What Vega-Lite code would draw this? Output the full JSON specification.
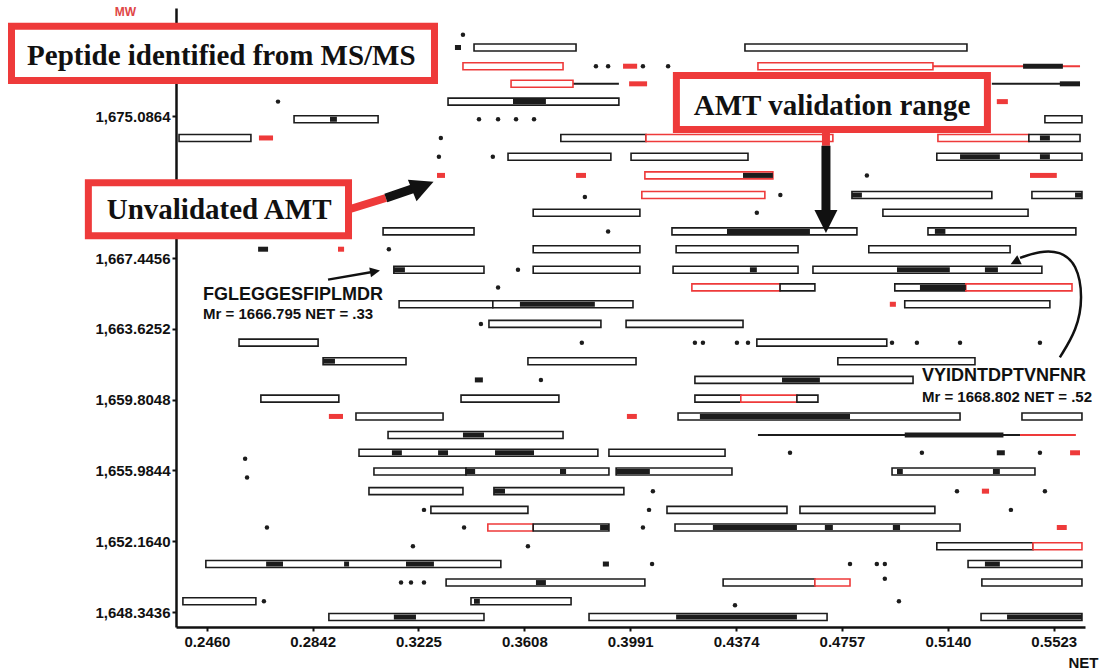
{
  "$schema": "https://vega.github.io/schema/vega-lite/v6.json",
  "width": 909,
  "height": 619,
  "autosize": {"type": "none"},
  "padding": {"left": 176, "top": 8, "right": 17, "bottom": 43},
  "background": "white",
  "config": {
    "view": {"stroke": null},
    "axis": {
      "domainColor": "#111111",
      "domainWidth": 2.5,
      "tickColor": "#111111",
      "tickWidth": 2,
      "tickSize": 4,
      "grid": false,
      "labelFont": "Liberation Sans",
      "labelFontSize": 15,
      "labelFontWeight": "bold",
      "labelColor": "#111111",
      "labelFlush": false,
      "labelOverlap": false,
      "titleFont": "Liberation Sans",
      "titleColor": "#111111"
    }
  },
  "datasets": {
    "ranges": [
      {"lo": 0.3426, "hi": 0.3795, "mw": 1678.80, "status": "validated"},
      {"lo": 0.4406, "hi": 0.5209, "mw": 1678.80, "status": "validated"},
      {"lo": 0.3386, "hi": 0.3748, "mw": 1677.79, "status": "unvalidated"},
      {"lo": 0.4453, "hi": 0.5086, "mw": 1677.79, "status": "unvalidated"},
      {"lo": 0.3560, "hi": 0.3784, "mw": 1676.84, "status": "unvalidated"},
      {"lo": 0.3332, "hi": 0.3950, "mw": 1675.88, "status": "validated"},
      {"lo": 0.2775, "hi": 0.3079, "mw": 1674.93, "status": "validated"},
      {"lo": 0.5491, "hi": 0.5625, "mw": 1674.93, "status": "validated"},
      {"lo": 0.2359, "hi": 0.2619, "mw": 1673.92, "status": "validated"},
      {"lo": 0.3740, "hi": 0.4048, "mw": 1673.92, "status": "validated"},
      {"lo": 0.4048, "hi": 0.4724, "mw": 1673.92, "status": "unvalidated"},
      {"lo": 0.5104, "hi": 0.5433, "mw": 1673.92, "status": "unvalidated"},
      {"lo": 0.5433, "hi": 0.5618, "mw": 1673.92, "status": "validated"},
      {"lo": 0.3549, "hi": 0.3921, "mw": 1672.91, "status": "validated"},
      {"lo": 0.3994, "hi": 0.4417, "mw": 1672.91, "status": "validated"},
      {"lo": 0.5100, "hi": 0.5625, "mw": 1672.91, "status": "validated"},
      {"lo": 0.4044, "hi": 0.4507, "mw": 1671.90, "status": "unvalidated"},
      {"lo": 0.4033, "hi": 0.4478, "mw": 1670.84, "status": "unvalidated"},
      {"lo": 0.4793, "hi": 0.5299, "mw": 1670.84, "status": "validated"},
      {"lo": 0.5444, "hi": 0.5625, "mw": 1670.84, "status": "validated"},
      {"lo": 0.3640, "hi": 0.4026, "mw": 1669.89, "status": "validated"},
      {"lo": 0.4905, "hi": 0.5430, "mw": 1669.89, "status": "validated"},
      {"lo": 0.3097, "hi": 0.3426, "mw": 1668.88, "status": "validated"},
      {"lo": 0.4142, "hi": 0.4811, "mw": 1668.88, "status": "validated"},
      {"lo": 0.5068, "hi": 0.5603, "mw": 1668.88, "status": "validated"},
      {"lo": 0.3640, "hi": 0.4026, "mw": 1667.92, "status": "validated"},
      {"lo": 0.4157, "hi": 0.4598, "mw": 1667.92, "status": "validated"},
      {"lo": 0.4854, "hi": 0.5365, "mw": 1667.92, "status": "validated"},
      {"lo": 0.3136, "hi": 0.3462, "mw": 1666.81, "status": "validated"},
      {"lo": 0.3640, "hi": 0.4026, "mw": 1666.81, "status": "validated"},
      {"lo": 0.4146, "hi": 0.4598, "mw": 1666.81, "status": "validated"},
      {"lo": 0.4652, "hi": 0.5480, "mw": 1666.81, "status": "validated"},
      {"lo": 0.4214, "hi": 0.4533, "mw": 1665.86, "status": "unvalidated"},
      {"lo": 0.4533, "hi": 0.4659, "mw": 1665.86, "status": "validated"},
      {"lo": 0.4948, "hi": 0.5205, "mw": 1665.86, "status": "validated"},
      {"lo": 0.5205, "hi": 0.5589, "mw": 1665.86, "status": "unvalidated"},
      {"lo": 0.3155, "hi": 0.3494, "mw": 1664.95, "status": "validated"},
      {"lo": 0.3494, "hi": 0.4001, "mw": 1664.95, "status": "validated"},
      {"lo": 0.4984, "hi": 0.5509, "mw": 1664.95, "status": "validated"},
      {"lo": 0.3480, "hi": 0.3885, "mw": 1663.89, "status": "validated"},
      {"lo": 0.3976, "hi": 0.4399, "mw": 1663.89, "status": "validated"},
      {"lo": 0.2576, "hi": 0.2862, "mw": 1662.88, "status": "validated"},
      {"lo": 0.4449, "hi": 0.4919, "mw": 1662.88, "status": "validated"},
      {"lo": 0.2880, "hi": 0.3180, "mw": 1661.88, "status": "validated"},
      {"lo": 0.3621, "hi": 0.4012, "mw": 1661.88, "status": "validated"},
      {"lo": 0.4742, "hi": 0.5238, "mw": 1661.88, "status": "validated"},
      {"lo": 0.4225, "hi": 0.5014, "mw": 1660.87, "status": "validated"},
      {"lo": 0.2655, "hi": 0.2937, "mw": 1659.86, "status": "validated"},
      {"lo": 0.3379, "hi": 0.3733, "mw": 1659.86, "status": "validated"},
      {"lo": 0.4225, "hi": 0.4391, "mw": 1659.86, "status": "validated"},
      {"lo": 0.4391, "hi": 0.4594, "mw": 1659.86, "status": "unvalidated"},
      {"lo": 0.4594, "hi": 0.4670, "mw": 1659.86, "status": "validated"},
      {"lo": 0.2999, "hi": 0.3314, "mw": 1658.90, "status": "validated"},
      {"lo": 0.4164, "hi": 0.5184, "mw": 1658.90, "status": "validated"},
      {"lo": 0.5408, "hi": 0.5625, "mw": 1658.90, "status": "validated"},
      {"lo": 0.3115, "hi": 0.3748, "mw": 1657.90, "status": "validated"},
      {"lo": 0.3010, "hi": 0.3874, "mw": 1656.94, "status": "validated"},
      {"lo": 0.3914, "hi": 0.4334, "mw": 1656.94, "status": "validated"},
      {"lo": 0.3064, "hi": 0.3397, "mw": 1655.93, "status": "validated"},
      {"lo": 0.3397, "hi": 0.3914, "mw": 1655.93, "status": "validated"},
      {"lo": 0.3940, "hi": 0.4359, "mw": 1655.93, "status": "validated"},
      {"lo": 0.4938, "hi": 0.5455, "mw": 1655.93, "status": "validated"},
      {"lo": 0.3046, "hi": 0.3386, "mw": 1654.87, "status": "validated"},
      {"lo": 0.3498, "hi": 0.3968, "mw": 1654.87, "status": "validated"},
      {"lo": 0.3270, "hi": 0.3621, "mw": 1653.86, "status": "validated"},
      {"lo": 0.4124, "hi": 0.4558, "mw": 1653.86, "status": "validated"},
      {"lo": 0.4605, "hi": 0.5093, "mw": 1653.86, "status": "validated"},
      {"lo": 0.3476, "hi": 0.3640, "mw": 1652.91, "status": "unvalidated"},
      {"lo": 0.3640, "hi": 0.3914, "mw": 1652.91, "status": "validated"},
      {"lo": 0.4153, "hi": 0.5184, "mw": 1652.91, "status": "validated"},
      {"lo": 0.5100, "hi": 0.5448, "mw": 1651.90, "status": "validated"},
      {"lo": 0.5448, "hi": 0.5625, "mw": 1651.90, "status": "unvalidated"},
      {"lo": 0.2456, "hi": 0.3523, "mw": 1650.94, "status": "validated"},
      {"lo": 0.5213, "hi": 0.5625, "mw": 1650.94, "status": "validated"},
      {"lo": 0.3325, "hi": 0.4044, "mw": 1649.94, "status": "validated"},
      {"lo": 0.4327, "hi": 0.4659, "mw": 1649.94, "status": "validated"},
      {"lo": 0.4659, "hi": 0.4786, "mw": 1649.94, "status": "unvalidated"},
      {"lo": 0.5263, "hi": 0.5625, "mw": 1649.94, "status": "validated"},
      {"lo": 0.2373, "hi": 0.2637, "mw": 1648.93, "status": "validated"},
      {"lo": 0.3415, "hi": 0.3777, "mw": 1648.93, "status": "validated"},
      {"lo": 0.2901, "hi": 0.3462, "mw": 1648.08, "status": "validated"},
      {"lo": 0.3842, "hi": 0.4703, "mw": 1648.08, "status": "validated"},
      {"lo": 0.5260, "hi": 0.5625, "mw": 1648.08, "status": "validated"}
    ],
    "traces": [
      {"lo": 0.5086, "hi": 0.5618, "mw": 1677.79, "status": "unvalidated"},
      {"lo": 0.3784, "hi": 0.3950, "mw": 1676.84, "status": "validated"},
      {"lo": 0.5299, "hi": 0.5618, "mw": 1676.84, "status": "validated"},
      {"lo": 0.4453, "hi": 0.5401, "mw": 1657.90, "status": "validated"},
      {"lo": 0.5401, "hi": 0.5603, "mw": 1657.90, "status": "unvalidated"}
    ],
    "cores": [
      {"lo": 0.3357, "hi": 0.3379, "mw": 1678.80, "status": "validated"},
      {"lo": 0.3965, "hi": 0.4016, "mw": 1677.79, "status": "unvalidated"},
      {"lo": 0.5412, "hi": 0.5556, "mw": 1677.79, "status": "validated"},
      {"lo": 0.3987, "hi": 0.4052, "mw": 1676.84, "status": "unvalidated"},
      {"lo": 0.5545, "hi": 0.5618, "mw": 1676.84, "status": "validated"},
      {"lo": 0.3567, "hi": 0.3686, "mw": 1675.88, "status": "validated"},
      {"lo": 0.5317, "hi": 0.5357, "mw": 1675.88, "status": "unvalidated"},
      {"lo": 0.2905, "hi": 0.2930, "mw": 1674.93, "status": "validated"},
      {"lo": 0.2648, "hi": 0.2699, "mw": 1673.92, "status": "unvalidated"},
      {"lo": 0.5473, "hi": 0.5509, "mw": 1673.92, "status": "validated"},
      {"lo": 0.5184, "hi": 0.5328, "mw": 1672.91, "status": "validated"},
      {"lo": 0.5473, "hi": 0.5509, "mw": 1672.91, "status": "validated"},
      {"lo": 0.3292, "hi": 0.3321, "mw": 1671.90, "status": "unvalidated"},
      {"lo": 0.3795, "hi": 0.3831, "mw": 1671.90, "status": "unvalidated"},
      {"lo": 0.4399, "hi": 0.4507, "mw": 1671.90, "status": "validated"},
      {"lo": 0.5437, "hi": 0.5534, "mw": 1671.90, "status": "unvalidated"},
      {"lo": 0.4793, "hi": 0.4829, "mw": 1670.84, "status": "validated"},
      {"lo": 0.5600, "hi": 0.5625, "mw": 1670.84, "status": "validated"},
      {"lo": 0.4341, "hi": 0.4641, "mw": 1668.88, "status": "validated"},
      {"lo": 0.5093, "hi": 0.5131, "mw": 1668.88, "status": "validated"},
      {"lo": 0.2645, "hi": 0.2681, "mw": 1667.92, "status": "validated"},
      {"lo": 0.2934, "hi": 0.2956, "mw": 1667.92, "status": "unvalidated"},
      {"lo": 0.3136, "hi": 0.3176, "mw": 1666.81, "status": "validated"},
      {"lo": 0.4424, "hi": 0.4449, "mw": 1666.81, "status": "validated"},
      {"lo": 0.4956, "hi": 0.5147, "mw": 1666.81, "status": "validated"},
      {"lo": 0.5274, "hi": 0.5321, "mw": 1666.81, "status": "validated"},
      {"lo": 0.5039, "hi": 0.5205, "mw": 1665.86, "status": "validated"},
      {"lo": 0.3592, "hi": 0.3863, "mw": 1664.95, "status": "validated"},
      {"lo": 0.4930, "hi": 0.4952, "mw": 1664.95, "status": "unvalidated"},
      {"lo": 0.2880, "hi": 0.2923, "mw": 1661.88, "status": "validated"},
      {"lo": 0.3429, "hi": 0.3458, "mw": 1660.87, "status": "validated"},
      {"lo": 0.4540, "hi": 0.4677, "mw": 1660.87, "status": "validated"},
      {"lo": 0.2901, "hi": 0.2952, "mw": 1658.90, "status": "unvalidated"},
      {"lo": 0.3979, "hi": 0.4015, "mw": 1658.90, "status": "unvalidated"},
      {"lo": 0.4243, "hi": 0.4786, "mw": 1658.90, "status": "validated"},
      {"lo": 0.3386, "hi": 0.3462, "mw": 1657.90, "status": "validated"},
      {"lo": 0.4984, "hi": 0.5341, "mw": 1657.90, "status": "validated"},
      {"lo": 0.3129, "hi": 0.3165, "mw": 1656.94, "status": "validated"},
      {"lo": 0.3296, "hi": 0.3332, "mw": 1656.94, "status": "validated"},
      {"lo": 0.3502, "hi": 0.3643, "mw": 1656.94, "status": "validated"},
      {"lo": 0.5317, "hi": 0.5346, "mw": 1656.94, "status": "validated"},
      {"lo": 0.5582, "hi": 0.5618, "mw": 1656.94, "status": "unvalidated"},
      {"lo": 0.3397, "hi": 0.3430, "mw": 1655.93, "status": "validated"},
      {"lo": 0.3737, "hi": 0.3759, "mw": 1655.93, "status": "validated"},
      {"lo": 0.3940, "hi": 0.4062, "mw": 1655.93, "status": "validated"},
      {"lo": 0.4956, "hi": 0.4977, "mw": 1655.93, "status": "validated"},
      {"lo": 0.5303, "hi": 0.5328, "mw": 1655.93, "status": "validated"},
      {"lo": 0.3498, "hi": 0.3538, "mw": 1654.87, "status": "validated"},
      {"lo": 0.5263, "hi": 0.5289, "mw": 1654.87, "status": "unvalidated"},
      {"lo": 0.3882, "hi": 0.3914, "mw": 1652.91, "status": "validated"},
      {"lo": 0.4290, "hi": 0.4594, "mw": 1652.91, "status": "validated"},
      {"lo": 0.4695, "hi": 0.4724, "mw": 1652.91, "status": "validated"},
      {"lo": 0.4941, "hi": 0.4967, "mw": 1652.91, "status": "validated"},
      {"lo": 0.5534, "hi": 0.5570, "mw": 1652.91, "status": "unvalidated"},
      {"lo": 0.2674, "hi": 0.2735, "mw": 1650.94, "status": "validated"},
      {"lo": 0.2956, "hi": 0.2974, "mw": 1650.94, "status": "validated"},
      {"lo": 0.3180, "hi": 0.3281, "mw": 1650.94, "status": "validated"},
      {"lo": 0.3892, "hi": 0.3914, "mw": 1650.94, "status": "validated"},
      {"lo": 0.5274, "hi": 0.5328, "mw": 1650.94, "status": "validated"},
      {"lo": 0.3650, "hi": 0.3686, "mw": 1649.94, "status": "validated"},
      {"lo": 0.3426, "hi": 0.3447, "mw": 1648.93, "status": "validated"},
      {"lo": 0.3136, "hi": 0.3216, "mw": 1648.08, "status": "validated"},
      {"lo": 0.4157, "hi": 0.4594, "mw": 1648.08, "status": "validated"},
      {"lo": 0.5354, "hi": 0.5625, "mw": 1648.08, "status": "validated"}
    ],
    "points": [
      {"net": 0.3386, "mw": 1679.49, "status": "validated"},
      {"net": 0.3867, "mw": 1677.79, "status": "validated"},
      {"net": 0.3911, "mw": 1677.79, "status": "validated"},
      {"net": 0.4037, "mw": 1677.79, "status": "validated"},
      {"net": 0.4128, "mw": 1677.79, "status": "validated"},
      {"net": 0.2717, "mw": 1675.88, "status": "validated"},
      {"net": 0.3444, "mw": 1674.93, "status": "validated"},
      {"net": 0.3513, "mw": 1674.93, "status": "validated"},
      {"net": 0.3578, "mw": 1674.93, "status": "validated"},
      {"net": 0.3643, "mw": 1674.93, "status": "validated"},
      {"net": 0.3306, "mw": 1673.92, "status": "validated"},
      {"net": 0.3299, "mw": 1672.91, "status": "validated"},
      {"net": 0.3494, "mw": 1672.91, "status": "validated"},
      {"net": 0.4847, "mw": 1671.90, "status": "validated"},
      {"net": 0.3827, "mw": 1670.74, "status": "validated"},
      {"net": 0.4534, "mw": 1670.84, "status": "validated"},
      {"net": 0.4449, "mw": 1669.89, "status": "validated"},
      {"net": 0.3911, "mw": 1668.88, "status": "validated"},
      {"net": 0.3118, "mw": 1667.92, "status": "validated"},
      {"net": 0.3585, "mw": 1666.81, "status": "validated"},
      {"net": 0.3513, "mw": 1665.86, "status": "validated"},
      {"net": 0.3451, "mw": 1663.89, "status": "validated"},
      {"net": 0.3816, "mw": 1662.88, "status": "validated"},
      {"net": 0.4225, "mw": 1662.88, "status": "validated"},
      {"net": 0.4254, "mw": 1662.88, "status": "validated"},
      {"net": 0.4377, "mw": 1662.88, "status": "validated"},
      {"net": 0.4417, "mw": 1662.88, "status": "validated"},
      {"net": 0.4938, "mw": 1662.88, "status": "validated"},
      {"net": 0.5028, "mw": 1662.88, "status": "validated"},
      {"net": 0.5184, "mw": 1662.88, "status": "validated"},
      {"net": 0.5473, "mw": 1662.88, "status": "validated"},
      {"net": 0.3668, "mw": 1660.87, "status": "validated"},
      {"net": 0.4569, "mw": 1656.94, "status": "validated"},
      {"net": 0.5046, "mw": 1656.94, "status": "validated"},
      {"net": 0.5473, "mw": 1656.94, "status": "validated"},
      {"net": 0.2598, "mw": 1656.62, "status": "validated"},
      {"net": 0.2605, "mw": 1655.61, "status": "validated"},
      {"net": 0.4073, "mw": 1654.87, "status": "validated"},
      {"net": 0.5173, "mw": 1654.87, "status": "validated"},
      {"net": 0.5491, "mw": 1654.87, "status": "validated"},
      {"net": 0.3245, "mw": 1653.86, "status": "validated"},
      {"net": 0.4059, "mw": 1653.86, "status": "validated"},
      {"net": 0.5368, "mw": 1653.86, "status": "validated"},
      {"net": 0.2677, "mw": 1652.91, "status": "validated"},
      {"net": 0.3390, "mw": 1652.91, "status": "validated"},
      {"net": 0.4037, "mw": 1652.91, "status": "validated"},
      {"net": 0.3205, "mw": 1651.90, "status": "validated"},
      {"net": 0.3621, "mw": 1651.90, "status": "validated"},
      {"net": 0.4070, "mw": 1650.94, "status": "validated"},
      {"net": 0.4786, "mw": 1650.94, "status": "validated"},
      {"net": 0.4883, "mw": 1650.94, "status": "validated"},
      {"net": 0.4912, "mw": 1650.94, "status": "validated"},
      {"net": 0.3162, "mw": 1649.94, "status": "validated"},
      {"net": 0.3198, "mw": 1649.94, "status": "validated"},
      {"net": 0.3245, "mw": 1649.94, "status": "validated"},
      {"net": 0.4912, "mw": 1650.15, "status": "validated"},
      {"net": 0.2666, "mw": 1648.93, "status": "validated"},
      {"net": 0.4370, "mw": 1648.72, "status": "validated"},
      {"net": 0.4963, "mw": 1648.93, "status": "validated"}
    ],
    "callouts": [
      {"label": "Peptide identified from MS/MS", "net_lo": 0.1753, "net_hi": 0.3283, "mw_lo": 1677.025, "mw_hi": 1679.94, "net_mid": 0.2512, "mw_mid": 1678.33},
      {"label": "Unvalidated AMT", "net_lo": 0.2031, "net_hi": 0.2972, "mw_lo": 1668.64, "mw_hi": 1671.51, "net_mid": 0.2504, "mw_mid": 1670.05},
      {"label": "AMT validation range", "net_lo": 0.4158, "net_hi": 0.5283, "mw_lo": 1674.37, "mw_hi": 1677.29, "net_mid": 0.4721, "mw_mid": 1675.67}
    ],
    "shafts": [
      {"part": "link", "net": 0.4699, "net2": 0.4699, "mw": 1674.19, "mw2": 1673.50},
      {"part": "arrow", "net": 0.4699, "net2": 0.4699, "mw": 1673.50, "mw2": 1669.83},
      {"part": "link", "net": 0.2981, "net2": 0.3107, "mw": 1670.10, "mw2": 1670.68},
      {"part": "arrow", "net": 0.3107, "net2": 0.3223, "mw": 1670.68, "mw2": 1671.27}
    ],
    "heads": [
      {"net": 0.4699, "mw": 1669.41, "dir": 90},
      {"net": 0.3241, "mw": 1671.32, "dir": -22}
    ],
    "leaders": [
      {"id": "a", "step": 0, "net": 0.2898, "mw": 1666.28},
      {"id": "a", "step": 1, "net": 0.3068, "mw": 1666.72},
      {"id": "b", "step": 0, "net": 0.5545, "mw": 1662.09},
      {"id": "b", "step": 1, "net": 0.5607, "mw": 1663.57},
      {"id": "b", "step": 2, "net": 0.5629, "mw": 1665.32},
      {"id": "b", "step": 3, "net": 0.5607, "mw": 1667.13},
      {"id": "b", "step": 4, "net": 0.5545, "mw": 1667.82},
      {"id": "b", "step": 5, "net": 0.5473, "mw": 1667.82},
      {"id": "b", "step": 6, "net": 0.5401, "mw": 1667.45}
    ],
    "tips": [
      {"net": 0.3068, "mw": 1666.72, "dir": -10},
      {"net": 0.5383, "mw": 1667.23, "dir": 153}
    ],
    "peptides": [
      {"kind": "sequence", "text": "FGLEGGESFIPLMDR", "net": 0.2446, "mw": 1665.43},
      {"kind": "mass", "text": "Mr = 1666.795 NET = .33", "net": 0.2446, "mw": 1664.42},
      {"kind": "sequence", "text": "VYIDNTDPTVNFNR", "net": 0.5046, "mw": 1661.08},
      {"kind": "mass", "text": "Mr = 1668.802 NET = .52", "net": 0.5046, "mw": 1659.96}
    ]
  },
  "layer": [
    {
      "data": {"name": "traces"},
      "mark": {"type": "rule", "strokeWidth": 2},
      "encoding": {
        "x": {
          "field": "lo", "type": "quantitative", "title": "NET",
          "scale": {"domain": [0.2348, 0.5636], "nice": false, "zero": false},
          "axis": {
            "values": [0.246, 0.2842, 0.3225, 0.3608, 0.3991, 0.4374, 0.4757, 0.514, 0.5523],
            "format": ".4f", "labelPadding": 3,
            "titleX": 907, "titleY": 35, "titleAlign": "center", "titleBaseline": "middle",
            "titleFontSize": 15, "titleFontWeight": "bold"
          }
        },
        "x2": {"field": "hi"},
        "y": {
          "field": "mw", "type": "quantitative", "title": "MW",
          "scale": {"domain": [1647.813, 1680.66], "nice": false, "zero": false},
          "axis": {
            "values": [1648.3436, 1652.164, 1655.9844, 1659.8048, 1663.6252, 1667.4456, 1675.0864],
            "format": ",.4f", "labelPadding": 2,
            "titleAngle": 0, "titleX": -51, "titleY": 3, "titleAlign": "center", "titleBaseline": "middle",
            "titleColor": "#e04646", "titleFontSize": 12, "titleFontWeight": "bold"
          }
        },
        "color": {"field": "status", "type": "nominal", "scale": {"domain": ["validated", "unvalidated"], "range": ["#1c1c1c", "#ee3a3a"]}, "legend": null}
      }
    },
    {
      "data": {"name": "ranges"},
      "mark": {"type": "bar", "orient": "horizontal", "size": 7, "fill": "white", "strokeWidth": 1.6},
      "encoding": {
        "x": {"field": "lo", "type": "quantitative", "title": "NET", "scale": {"domain": [0.2348, 0.5636], "nice": false, "zero": false}},
        "x2": {"field": "hi"},
        "y": {"field": "mw", "type": "quantitative", "title": "MW", "scale": {"domain": [1647.813, 1680.66], "nice": false, "zero": false}},
        "stroke": {"field": "status", "type": "nominal", "scale": {"domain": ["validated", "unvalidated"], "range": ["#1c1c1c", "#ee3a3a"]}, "legend": null}
      }
    },
    {
      "data": {"name": "cores"},
      "mark": {"type": "bar", "orient": "horizontal", "size": 5},
      "encoding": {
        "x": {"field": "lo", "type": "quantitative", "title": "NET", "scale": {"domain": [0.2348, 0.5636], "nice": false, "zero": false}},
        "x2": {"field": "hi"},
        "y": {"field": "mw", "type": "quantitative", "title": "MW", "scale": {"domain": [1647.813, 1680.66], "nice": false, "zero": false}},
        "color": {"field": "status", "type": "nominal", "scale": {"domain": ["validated", "unvalidated"], "range": ["#1c1c1c", "#ee3a3a"]}, "legend": null}
      }
    },
    {
      "data": {"name": "points"},
      "mark": {"type": "point", "filled": true, "size": 20, "opacity": 1},
      "encoding": {
        "x": {"field": "net", "type": "quantitative", "title": "NET", "scale": {"domain": [0.2348, 0.5636], "nice": false, "zero": false}},
        "y": {"field": "mw", "type": "quantitative", "title": "MW", "scale": {"domain": [1647.813, 1680.66], "nice": false, "zero": false}},
        "color": {"field": "status", "type": "nominal", "scale": {"domain": ["validated", "unvalidated"], "range": ["#1c1c1c", "#ee3a3a"]}, "legend": null}
      }
    },
    {
      "data": {"name": "shafts"},
      "transform": [{"filter": "datum.part === 'link'"}],
      "mark": {"type": "rule", "strokeWidth": 8, "color": "#ee3a3a"},
      "encoding": {
        "x": {"field": "net", "type": "quantitative", "title": "NET", "scale": {"domain": [0.2348, 0.5636], "nice": false, "zero": false}},
        "x2": {"field": "net2"},
        "y": {"field": "mw", "type": "quantitative", "title": "MW", "scale": {"domain": [1647.813, 1680.66], "nice": false, "zero": false}},
        "y2": {"field": "mw2"}
      }
    },
    {
      "data": {"name": "shafts"},
      "transform": [{"filter": "datum.part === 'arrow'"}],
      "mark": {"type": "rule", "strokeWidth": 9, "color": "#111111"},
      "encoding": {
        "x": {"field": "net", "type": "quantitative", "title": "NET", "scale": {"domain": [0.2348, 0.5636], "nice": false, "zero": false}},
        "x2": {"field": "net2"},
        "y": {"field": "mw", "type": "quantitative", "title": "MW", "scale": {"domain": [1647.813, 1680.66], "nice": false, "zero": false}},
        "y2": {"field": "mw2"}
      }
    },
    {
      "data": {"name": "heads"},
      "mark": {"type": "point", "shape": "M-1,-1L1,0L-1,1Z", "filled": true, "size": 530, "color": "#111111", "opacity": 1},
      "encoding": {
        "x": {"field": "net", "type": "quantitative", "title": "NET", "scale": {"domain": [0.2348, 0.5636], "nice": false, "zero": false}},
        "y": {"field": "mw", "type": "quantitative", "title": "MW", "scale": {"domain": [1647.813, 1680.66], "nice": false, "zero": false}},
        "angle": {"field": "dir", "type": "quantitative", "scale": null}
      }
    },
    {
      "data": {"name": "callouts"},
      "mark": {"type": "rect", "fill": "white", "stroke": "#ee3a3a", "strokeWidth": 7},
      "encoding": {
        "x": {"field": "net_lo", "type": "quantitative", "title": "NET", "scale": {"domain": [0.2348, 0.5636], "nice": false, "zero": false}},
        "x2": {"field": "net_hi"},
        "y": {"field": "mw_lo", "type": "quantitative", "title": "MW", "scale": {"domain": [1647.813, 1680.66], "nice": false, "zero": false}},
        "y2": {"field": "mw_hi"}
      }
    },
    {
      "data": {"name": "callouts"},
      "mark": {"type": "text", "font": "Liberation Serif", "fontWeight": "bold", "fontSize": 29, "color": "#111111", "align": "center", "baseline": "middle"},
      "encoding": {
        "x": {"field": "net_mid", "type": "quantitative", "title": "NET", "scale": {"domain": [0.2348, 0.5636], "nice": false, "zero": false}},
        "y": {"field": "mw_mid", "type": "quantitative", "title": "MW", "scale": {"domain": [1647.813, 1680.66], "nice": false, "zero": false}},
        "text": {"field": "label"}
      }
    },
    {
      "data": {"name": "leaders"},
      "mark": {"type": "line", "interpolate": "basis", "strokeWidth": 2.5, "color": "#111111"},
      "encoding": {
        "x": {"field": "net", "type": "quantitative", "title": "NET", "scale": {"domain": [0.2348, 0.5636], "nice": false, "zero": false}},
        "y": {"field": "mw", "type": "quantitative", "title": "MW", "scale": {"domain": [1647.813, 1680.66], "nice": false, "zero": false}},
        "detail": {"field": "id"},
        "order": {"field": "step", "type": "quantitative"}
      }
    },
    {
      "data": {"name": "tips"},
      "mark": {"type": "point", "shape": "M-1,-1L1,0L-1,1Z", "filled": true, "size": 100, "color": "#111111", "opacity": 1},
      "encoding": {
        "x": {"field": "net", "type": "quantitative", "title": "NET", "scale": {"domain": [0.2348, 0.5636], "nice": false, "zero": false}},
        "y": {"field": "mw", "type": "quantitative", "title": "MW", "scale": {"domain": [1647.813, 1680.66], "nice": false, "zero": false}},
        "angle": {"field": "dir", "type": "quantitative", "scale": null}
      }
    },
    {
      "data": {"name": "peptides"},
      "transform": [{"filter": "datum.kind === 'sequence'"}],
      "mark": {"type": "text", "font": "Liberation Sans", "fontWeight": "bold", "fontSize": 18, "color": "#111111", "align": "left", "baseline": "middle"},
      "encoding": {
        "x": {"field": "net", "type": "quantitative", "title": "NET", "scale": {"domain": [0.2348, 0.5636], "nice": false, "zero": false}},
        "y": {"field": "mw", "type": "quantitative", "title": "MW", "scale": {"domain": [1647.813, 1680.66], "nice": false, "zero": false}},
        "text": {"field": "text"}
      }
    },
    {
      "data": {"name": "peptides"},
      "transform": [{"filter": "datum.kind === 'mass'"}],
      "mark": {"type": "text", "font": "Liberation Sans", "fontWeight": "bold", "fontSize": 15, "color": "#111111", "align": "left", "baseline": "middle"},
      "encoding": {
        "x": {"field": "net", "type": "quantitative", "title": "NET", "scale": {"domain": [0.2348, 0.5636], "nice": false, "zero": false}},
        "y": {"field": "mw", "type": "quantitative", "title": "MW", "scale": {"domain": [1647.813, 1680.66], "nice": false, "zero": false}},
        "text": {"field": "text"}
      }
    }
  ]
}
